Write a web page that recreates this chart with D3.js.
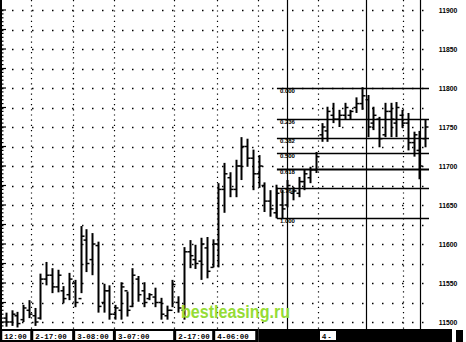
<!DOCTYPE html>
<html><head><meta charset="utf-8">
<script src="https://cdn.jsdelivr.net/npm/d3@7"></script>
<style>html,body{margin:0;padding:0;background:#fff;}svg{display:block;}</style>
</head><body>
<script>
// ---- data ----
const highs = [11512,11515,11513,11522,11528,11518,11562,11577,11569,11567,11546,11563,11554,11623,11619,11614,11603,11549,11547,11522,11551,11539,11569,11559,11551,11537,11544,11531,11521,11554,11533,11596,11605,11599,11608,11609,11606,11678,11704,11692,11708,11737,11735,11721,11714,11679,11669,11676,11669,11682,11673,11686,11695,11699,11718,11755,11776,11781,11772,11781,11772,11788,11801,11791,11776,11763,11781,11781,11782,11772,11768,11744,11745,11759];
const lows  = [11494,11495,11493,11500,11505,11495,11503,11547,11537,11538,11524,11528,11519,11537,11564,11560,11512,11512,11503,11503,11503,11507,11519,11526,11519,11528,11519,11503,11503,11519,11512,11503,11569,11568,11554,11556,11570,11570,11640,11660,11660,11682,11699,11669,11672,11641,11635,11633,11633,11647,11656,11660,11669,11678,11691,11731,11731,11755,11750,11759,11759,11768,11772,11737,11746,11724,11737,11737,11737,11749,11720,11712,11683,11724];
const opens = [11505,11500,11508,11503,11515,11508,11505,11555,11560,11545,11540,11535,11550,11530,11605,11580,11598,11525,11540,11510,11515,11540,11520,11555,11540,11530,11532,11525,11508,11515,11525,11515,11590,11580,11578,11595,11570,11600,11670,11685,11670,11700,11725,11710,11690,11675,11655,11640,11650,11650,11665,11665,11680,11685,11695,11740,11745,11765,11760,11765,11765,11775,11780,11785,11755,11760,11740,11770,11755,11765,11755,11730,11720,11735];
const closes= [11500,11510,11498,11518,11510,11500,11555,11560,11545,11560,11530,11555,11525,11610,11575,11600,11520,11540,11510,11518,11545,11515,11560,11535,11525,11535,11525,11510,11515,11548,11518,11590,11585,11575,11600,11565,11600,11670,11690,11670,11700,11725,11710,11690,11700,11655,11645,11665,11645,11675,11668,11680,11690,11695,11712,11750,11770,11760,11765,11775,11770,11780,11790,11750,11765,11735,11770,11760,11775,11755,11730,11740,11700,11750];

const priceTicks = [11500,11550,11600,11650,11700,11750,11800,11850,11900];
const gridStep = 25;
const dottedSessions = [4.4, 11.7, 18.8, 29.3, 36.8, 43.9, 54.4, 69.2];
const solidSessions = [49.0, 62.7, 72.2];
const dateLabels = ["12:00","2-17:00","3-08:00","3-07:00","2-17:00","4-06:00"];
const dateBounds = [-1.0, 4.4, 11.7, 18.8, 29.3, 36.1, 43.6];
const fibHigh = 11800, fibLow = 11633;
const fibLevels = [0, 0.236, 0.382, 0.5, 0.618, 0.764, 1.0];
const fibLabels = ["0.000","0.236","0.382","0.500","0.618","0.764","1.000"];
const fibStartIndex = 47.2;
const watermark = "bestleasing.ru";

// ---- chart ----
const W = 466, H = 342;
const svg = d3.select("body").append("svg").attr("width", W).attr("height", H);
const x = d3.scaleLinear().domain([0, highs.length - 1]).range([6, 425]);
const y = d3.scaleLinear().domain([11500, 11900]).range([322, 10]);
const plotRight = 429, plotBottom = 329;

// horizontal dotted grid
const gridVals = d3.range(11500, 11901, gridStep);
svg.append("g").selectAll("line").data(gridVals).join("line")
  .attr("x1", 2).attr("x2", plotRight).attr("y1", d => Math.round(y(d)) + 0.5).attr("y2", d => Math.round(y(d)) + 0.5)
  .attr("stroke", "#000").attr("stroke-width", 1.3).attr("stroke-dasharray", "1.5,8.5");

// vertical dotted session lines
svg.append("g").selectAll("line").data(dottedSessions).join("line")
  .attr("x1", d => Math.round(x(d)) + 0.5).attr("x2", d => Math.round(x(d)) + 0.5)
  .attr("y1", 0).attr("y2", plotBottom)
  .attr("stroke", "#000").attr("stroke-width", 1.2).attr("stroke-dasharray", "1.2,4");

// vertical solid session lines
svg.append("g").selectAll("line").data(solidSessions).join("line")
  .attr("x1", d => Math.round(x(d)) + 0.5).attr("x2", d => Math.round(x(d)) + 0.5)
  .attr("y1", 0).attr("y2", plotBottom)
  .attr("stroke", "#000").attr("stroke-width", 1.2);

// left edge axis with small ticks
svg.append("line").attr("x1", 1).attr("x2", 1).attr("y1", 0).attr("y2", plotBottom).attr("stroke", "#000").attr("stroke-width", 2);
svg.append("g").selectAll("line").data(d3.range(11495, 11905, 5)).join("line")
  .attr("x1", 1).attr("x2", d => d % 25 === 0 ? 6 : 3.5)
  .attr("y1", d => y(d)).attr("y2", d => y(d))
  .attr("stroke", "#000").attr("stroke-width", 1.2);

// fibonacci lines
const fibY = l => y(fibHigh - (fibHigh - fibLow) * l);
const fx0 = x(fibStartIndex);
const fib = svg.append("g");
fib.selectAll("line").data(fibLevels).join("line")
  .attr("x1", fx0).attr("x2", plotRight)
  .attr("y1", d => Math.round(fibY(d)) + 0.5).attr("y2", d => Math.round(fibY(d)) + 0.5)
  .attr("stroke", "#000").attr("stroke-width", (d, i) => i === 4 ? 2 : 1.3);
fib.append("line").attr("x1", fx0).attr("x2", fx0)
  .attr("y1", fibY(0.764)).attr("y2", fibY(1.0)).attr("stroke", "#000").attr("stroke-width", 1.5);
fib.selectAll("text").data(fibLevels).join("text")
  .attr("x", fx0 + 3).attr("y", d => fibY(d) + 5)
  .attr("font-family", "Liberation Sans, Arial, sans-serif").attr("font-weight", "bold").attr("font-size", 6)
  .attr("fill", "#000").text((d, i) => fibLabels[i]);

// OHLC bars
const bars = svg.append("g");
highs.forEach((h, i) => {
  const cx = Math.round(x(i)) + 0.5;
  bars.append("line").attr("x1", cx).attr("x2", cx).attr("y1", y(h)).attr("y2", y(lows[i]))
    .attr("stroke", "#000").attr("stroke-width", 2);
  bars.append("line").attr("x1", cx - 3).attr("x2", cx).attr("y1", y(opens[i])).attr("y2", y(opens[i]))
    .attr("stroke", "#000").attr("stroke-width", 1.5);
  bars.append("line").attr("x1", cx).attr("x2", cx + 3).attr("y1", y(closes[i])).attr("y2", y(closes[i]))
    .attr("stroke", "#000").attr("stroke-width", 1.5);
});

// right price labels
svg.append("rect").attr("x", 431).attr("y", 0).attr("width", 35).attr("height", 328).attr("fill", "#fff");
svg.append("g").selectAll("text").data(priceTicks).join("text")
  .attr("x", 448).attr("y", d => y(d) + 2.5).attr("text-anchor", "middle")
  .attr("font-family", "Liberation Sans, Arial, sans-serif").attr("font-weight", "bold").attr("font-size", 6.8)
  .attr("fill", "#000").text(d => d);

// watermark
svg.append("text").attr("x", 181).attr("y", 318).attr("textLength", 109).attr("lengthAdjust", "spacingAndGlyphs")
  .attr("font-family", "Liberation Sans, Arial, sans-serif").attr("font-weight", "bold").attr("font-size", 18)
  .attr("fill", "#95dc36").text(watermark);

// bottom date bar
const bot = svg.append("g");
bot.append("rect").attr("x", 0).attr("y", 329).attr("width", x(dateBounds[dateBounds.length - 1]) + 2).attr("height", 13).attr("fill", "#000");
dateLabels.forEach((t, i) => {
  const a = Math.max(0, x(dateBounds[i])) + 2, b = x(dateBounds[i + 1]) - 1;
  bot.append("rect").attr("x", a).attr("y", 331).attr("width", b - a).attr("height", 9).attr("fill", "#fff");
  bot.append("text").attr("x", a + 2).attr("y", 338.5)
    .attr("font-family", "Liberation Mono, DejaVu Sans Mono, monospace").attr("font-weight", "bold").attr("font-size", 7.5)
    .attr("fill", "#000").text(t);
});
bot.append("rect").attr("x", x(dateBounds[dateBounds.length - 1]) + 2).attr("y", 329).attr("width", 452 - x(dateBounds[dateBounds.length - 1]) - 2).attr("height", 13).attr("fill", "#000");
bot.append("rect").attr("x", 320).attr("y", 331).attr("width", 16).attr("height", 9).attr("fill", "#fff");
bot.append("text").attr("x", 322).attr("y", 338.5)
  .attr("font-family", "Liberation Sans, Arial, sans-serif").attr("font-weight", "bold").attr("font-size", 7.5)
  .attr("fill", "#000").text("4 -");
bot.append("rect").attr("x", 456).attr("y", 330).attr("width", 7).attr("height", 12).attr("fill", "#000");
</script>
</body></html>
